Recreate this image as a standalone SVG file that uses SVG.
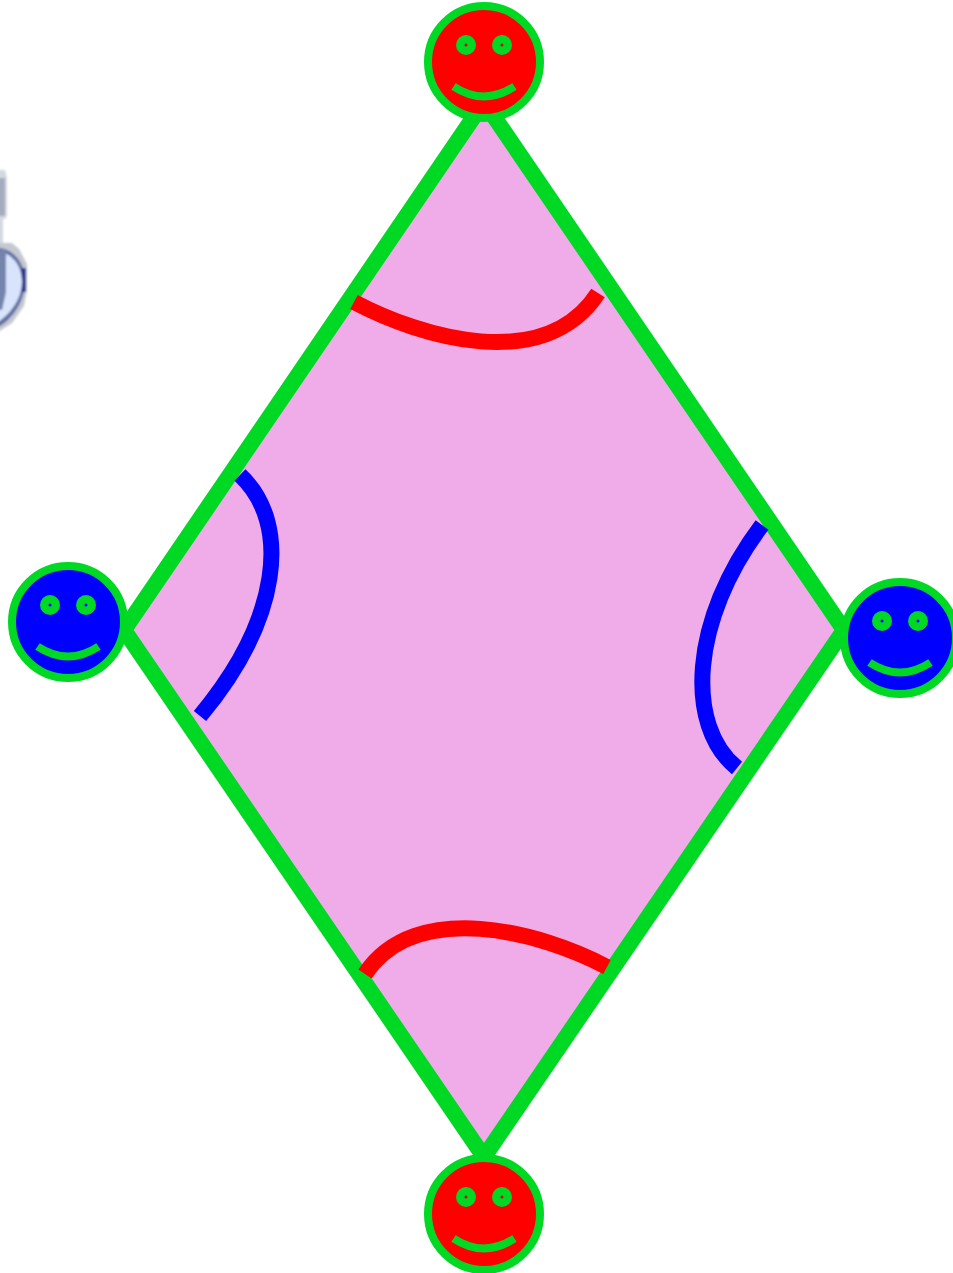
<svg xmlns="http://www.w3.org/2000/svg" width="953" height="1273" viewBox="0 0 953 1273">
<style>
.edge{fill:#f0ace8;stroke:#00d924;stroke-width:16;stroke-linejoin:miter}
.face{stroke:#00d924;stroke-width:8}
.eye{fill:#00d924}
.smile{fill:none;stroke:#00d924;stroke-width:8}
.red{fill:#f00}.blue{fill:#00f}
.arcr{fill:none;stroke:#f00;stroke-width:16}
.arcb{fill:none;stroke:#00f;stroke-width:16}
</style>
<defs>
<filter id="soft" x="-20%" y="-20%" width="140%" height="140%"><feGaussianBlur stdDeviation="0.9"/></filter>
<g id="feat">
<circle class="eye" cx="-18" cy="-17" r="10"/><circle class="eye" cx="18" cy="-17" r="10"/>
<path class="smile" d="M-30.500 24.500Q0 44.500 30.500 24.500"/>
</g>
</defs>
<g id="glyph" filter="url(#soft)">
<path d="M-2 170H5L7 178V216L5 219H3V243H-2Z" fill="#d4d8e0"/>
<path d="M-2 178H5V216H-2Z" fill="#a4acbe"/>
<path d="M-2 243H12L19 249L27 264V290L24 306L12 323L-2 332Z" fill="#c4c8d0"/>
<path d="M-2 248C12 248 25 262 25 281C25 303 10 321 -2 327Z" fill="#5f6fa4"/>
<path d="M21 268H26V292H21Z" fill="#2a3a8c"/>
<path d="M-2 252C10 252 22 264 22 282C22 300 8 316 -2 322Z" fill="#d8e4fb"/>
<path d="M-2 250H6V292L2 310H-2Z" fill="#7484ac"/>
</g>
<g id="connectors">
<path class="edge" d="M484 102L844 630L484 1157L124 630Z" id="diamond"/>
<path class="arcr" d="M354 302C420 337 545 375 598 293"/>
<path class="arcr" d="M607 967C541 932 416 898 365 974"/>
<path class="arcb" d="M240 475C292 524 280 620 200 716"/>
<path class="arcb" d="M762 525C690 620 685 726 737 768"/>
</g>
<g id="top"><circle class="face red" cx="484" cy="62" r="56"/><use href="#feat" x="484" y="62"/><circle cx="466" cy="45" r="1.500" fill="#c80a14"/><circle cx="502" cy="45" r="1.500" fill="#c80a14"/></g>
<g id="left"><circle class="face blue" cx="68" cy="622" r="56"/><use href="#feat" x="68" y="622"/><circle cx="50" cy="605" r="1.500" fill="#00f"/><circle cx="86" cy="605" r="1.500" fill="#00f"/></g>
<g id="right"><circle class="face blue" cx="900" cy="638" r="56"/><use href="#feat" x="900" y="638"/><circle cx="882" cy="621" r="1.500" fill="#00f"/><circle cx="918" cy="621" r="1.500" fill="#00f"/></g>
<g id="bottom"><circle class="face red" cx="484" cy="1214" r="56"/><use href="#feat" x="484" y="1214"/><circle cx="466" cy="1197" r="1.500" fill="#c80a14"/><circle cx="502" cy="1197" r="1.500" fill="#c80a14"/></g>
</svg>
